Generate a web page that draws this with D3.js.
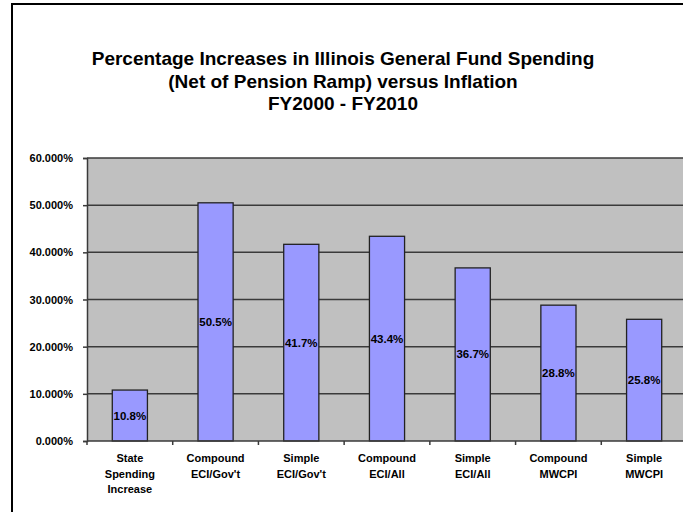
<!DOCTYPE html>
<html>
<head>
<meta charset="utf-8">
<script src="https://cdn.jsdelivr.net/npm/d3@7"></script>
<style>
html,body{margin:0;padding:0;background:#fff;overflow:hidden;}
svg{display:block;font-family:"Liberation Sans",Arial,sans-serif;}
</style>
</head>
<body>
<svg id="chart" width="683" height="512"></svg>
<script>
const titleLines = ["Percentage Increases in Illinois General Fund Spending", "(Net of Pension Ramp) versus Inflation", "FY2000 - FY2010"];
const categories = [
  ["State", "Spending", "Increase"],
  ["Compound", "ECI/Gov't"],
  ["Simple", "ECI/Gov't"],
  ["Compound", "ECI/All"],
  ["Simple", "ECI/All"],
  ["Compound", "MWCPI"],
  ["Simple", "MWCPI"]
];
const values = [10.8, 50.5, 41.7, 43.4, 36.7, 28.8, 25.8];
const yTicks = [0, 10, 20, 30, 40, 50, 60];

const svg = d3.select("#chart");
const pLeft = 87, pRight = 687, pTop = 158, pBottom = 441;

// outer border
svg.append("rect").attr("x", 12).attr("y", 4).attr("width", 700).attr("height", 530)
  .attr("fill", "#fff").attr("stroke", "#000").attr("stroke-width", 2);

const idx = values.map((v, i) => i);
const x = d3.scaleBand().domain(idx).range([pLeft, pRight]).paddingInner(0.59).paddingOuter(0.295);
const y = d3.scaleLinear().domain([0, 60]).range([pBottom, pTop]);

// plot background
svg.append("rect").attr("x", pLeft).attr("y", pTop).attr("width", pRight - pLeft).attr("height", pBottom - pTop)
  .attr("fill", "#c0c0c0");

// gridlines
svg.append("g").selectAll("line").data(yTicks.filter(t => t > 0)).join("line")
  .attr("x1", pLeft).attr("x2", pRight)
  .attr("y1", d => y(d)).attr("y2", d => y(d))
  .attr("stroke", "#3a3a3a").attr("stroke-width", 1.5);

// title
svg.append("g").selectAll("text").data(titleLines).join("text")
  .attr("x", 343).attr("y", (d, i) => 65 + i * 22.5)
  .attr("text-anchor", "middle").attr("font-size", 19).attr("font-weight", "bold").attr("fill", "#000")
  .text(d => d);

// bars
svg.append("g").selectAll("rect").data(values).join("rect")
  .attr("x", (d, i) => x(i)).attr("width", x.bandwidth())
  .attr("y", d => y(d)).attr("height", d => y(0) - y(d))
  .attr("fill", "#9999ff").attr("stroke", "#222").attr("stroke-width", 1.3);

// bar labels
svg.append("g").selectAll("text").data(values).join("text")
  .attr("x", (d, i) => x(i) + x.bandwidth() / 2)
  .attr("y", d => (y(d) + y(0)) / 2 + 4)
  .attr("text-anchor", "middle").attr("font-size", 11.5).attr("font-weight", "bold").attr("fill", "#000")
  .text(d => d.toFixed(1) + "%");

// y axis
const yAxis = d3.axisLeft(y).tickValues(yTicks).tickSize(4).tickPadding(10)
  .tickFormat(d => d.toFixed(3) + "%");
const ga = svg.append("g").attr("transform", `translate(${pLeft},0)`).call(yAxis);
ga.select(".domain").attr("stroke", "#3a3a3a").attr("stroke-width", 1.5);
ga.selectAll(".tick line").attr("stroke", "#3a3a3a").attr("stroke-width", 1.5);
ga.selectAll(".tick text").attr("font-size", 11).attr("font-weight", "bold").attr("fill", "#000")
  .attr("font-family", "'Liberation Sans',Arial,sans-serif");

// x axis
svg.append("line").attr("x1", pLeft).attr("x2", pRight).attr("y1", pBottom).attr("y2", pBottom)
  .attr("stroke", "#3a3a3a").attr("stroke-width", 1.5);
const step = x.step();
svg.append("g").selectAll("line").data(idx).join("line")
  .attr("x1", i => x(i) - (step - x.bandwidth()) / 2).attr("x2", i => x(i) - (step - x.bandwidth()) / 2)
  .attr("y1", pBottom).attr("y2", pBottom + 4)
  .attr("stroke", "#3a3a3a").attr("stroke-width", 1.5);

// category labels
const cl = svg.append("g").selectAll("text").data(categories).join("text")
  .attr("x", (d, i) => x(i) + x.bandwidth() / 2)
  .attr("y", 462)
  .attr("text-anchor", "middle").attr("font-size", 11).attr("font-weight", "bold").attr("fill", "#000");
cl.selectAll("tspan").data((d, i) => d.map(t => ({t, i}))).join("tspan")
  .attr("x", d => x(d.i) + x.bandwidth() / 2)
  .attr("dy", (d, j) => j === 0 ? 0 : 15.5)
  .text(d => d.t);
</script>
</body>
</html>
